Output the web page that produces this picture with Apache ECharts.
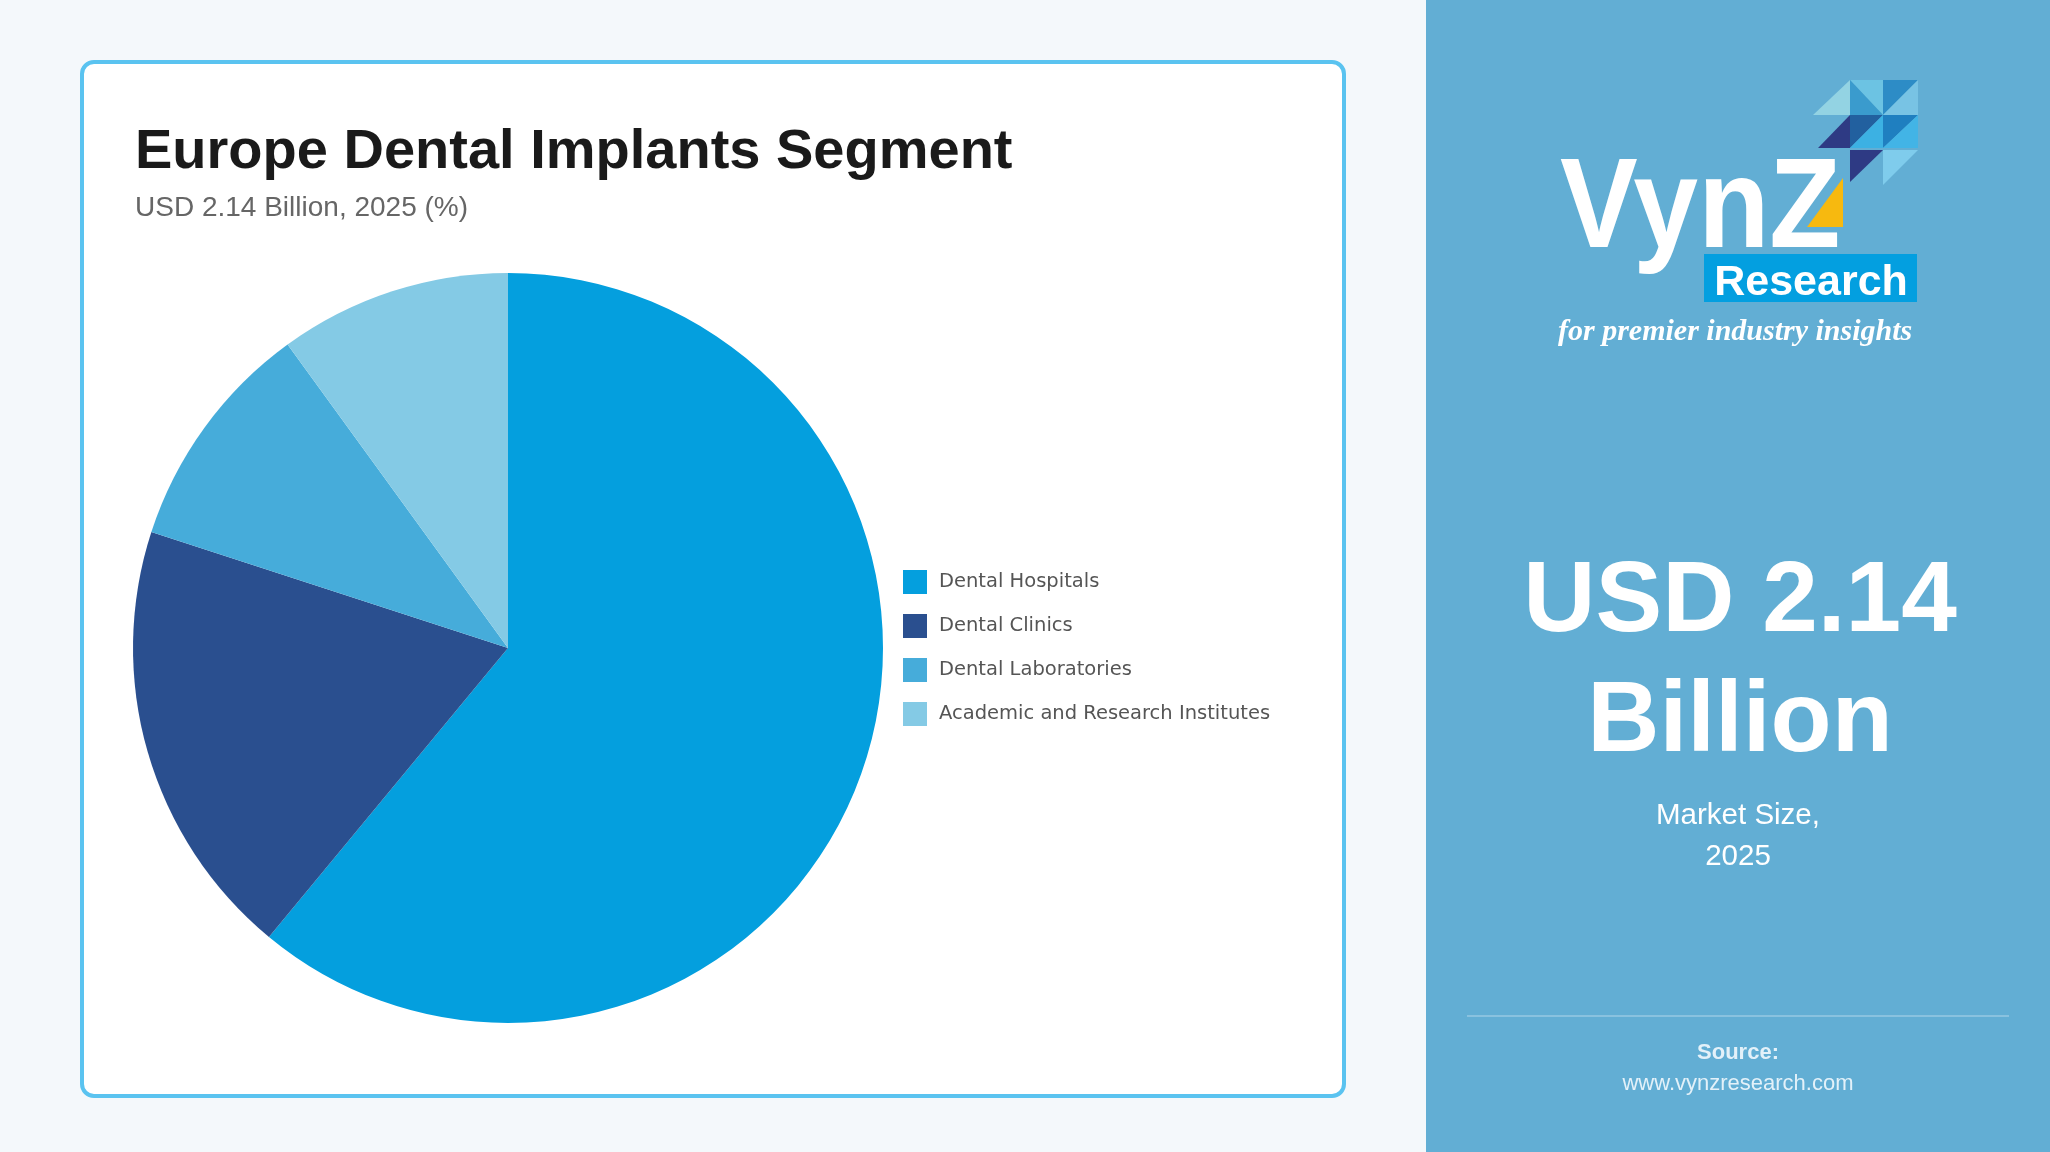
<!DOCTYPE html>
<html>
<head>
<meta charset="utf-8">
<title>Europe Dental Implants Segment</title>
<script src="https://cdn.jsdelivr.net/npm/echarts@6/dist/echarts.min.js"></script>
<style>
  html, body {
    margin: 0;
    padding: 0;
    background: #f4f8fb;
  }
  #chart {
    width: 2050px;
    height: 1152px;
  }
</style>
</head>
<body>
<div id="chart"></div>
<script>
// segment shares, 2025 (%)
const segments = [
  "Dental Hospitals",
  "Dental Clinics",
  "Dental Laboratories",
  "Academic and Research Institutes",
];
const shares = [61, 19, 10, 10];
const segmentColors = ["#049fde", "#2a4f8f", "#46acda", "#84cae5"];

const titleText = "Europe Dental Implants Segment";
const subTitleText = "USD 2.14 Billion, 2025 (%)";
const sizeLines = ["USD 2.14", "Billion"];
const sizeCaption = ["Market Size,", "2025"];

const SANS = '"Liberation Sans", Arial, sans-serif';

const chart = echarts.init(document.getElementById("chart"));

const txt = (x, y, text, font, fill, align) => ({
  type: "text",
  x: x,
  y: y,
  silent: true,
  style: {
    text: text,
    font: font,
    fill: fill,
    align: align || "left",
    verticalAlign: "middle",
  },
});

const tri = (pts, fill) => ({
  type: "polygon",
  silent: true,
  shape: { points: pts },
  style: { fill: fill },
});

// logo mosaic (top right of the side panel)
const mosaic = [
  tri([[1813, 115], [1850, 80], [1850, 115]], "#93d3e3"),
  tri([[1850, 80], [1883, 80], [1883, 115]], "#6cc3e3"),
  tri([[1850, 80], [1883, 115], [1850, 115]], "#3a9bcd"),
  tri([[1883, 80], [1918, 80], [1883, 115]], "#2d8cc6"),
  tri([[1918, 80], [1918, 115], [1883, 115]], "#78c3e4"),
  tri([[1818, 148], [1850, 115], [1850, 148]], "#2e3a84"),
  tri([[1850, 115], [1883, 115], [1850, 148]], "#22609f"),
  tri([[1883, 115], [1883, 148], [1850, 148]], "#3cb1e3"),
  tri([[1883, 115], [1918, 115], [1883, 148]], "#1f7fc0"),
  tri([[1918, 115], [1918, 148], [1883, 148]], "#42b4e6"),
  tri([[1850, 150], [1883, 150], [1850, 182]], "#2e3a84"),
  tri([[1883, 150], [1918, 150], [1883, 185]], "#7fccec"),
  tri([[1807, 227], [1843, 227], [1843, 178]], "#f7b90f"),
];

const option = {
  backgroundColor: "#f4f8fb",
  animation: false,
  color: segmentColors,
  graphic: [
    // white card with blue border
    {
      type: "rect",
      silent: true,
      shape: { x: 82, y: 62, width: 1262, height: 1034, r: 12 },
      style: { fill: "#ffffff", stroke: "#5ac3f0", lineWidth: 4 },
    },
    // side panel
    {
      type: "rect",
      silent: true,
      shape: { x: 1426, y: 0, width: 624, height: 1152 },
      style: { fill: "#62aed4" },
    },
    txt(135, 153, titleText, "bold 56px " + SANS, "#1a1a1a"),
    txt(135, 208, subTitleText, "28px " + SANS, "#666666"),

    // logo
    ...mosaic,
    {
      type: "text",
      x: 1560,
      y: 212,
      scaleX: 0.91,
      silent: true,
      style: {
        text: "VynZ",
        font: "bold 128px " + SANS,
        fill: "#ffffff",
        verticalAlign: "middle",
      },
    },
    {
      type: "rect",
      silent: true,
      shape: { x: 1704, y: 254, width: 213, height: 48 },
      style: { fill: "#039fe0" },
    },
    txt(1811, 283, "Research", "bold 43px " + SANS, "#ffffff", "center"),
    txt(1558, 332, "for premier industry insights",
      'italic bold 30px "Liberation Serif", serif', "#ffffff"),

    // market size block
    txt(1740, 603, sizeLines[0], "bold 100px " + SANS, "#ffffff", "center"),
    txt(1740, 723, sizeLines[1], "bold 100px " + SANS, "#ffffff", "center"),
    txt(1738, 816, sizeCaption[0], "29.5px " + SANS, "#ffffff", "center"),
    txt(1738, 857, sizeCaption[1], "29.5px " + SANS, "#ffffff", "center"),
    {
      type: "line",
      silent: true,
      shape: { x1: 1467, y1: 1016, x2: 2009, y2: 1016 },
      style: { stroke: "rgba(255,255,255,0.25)", lineWidth: 2 },
    },
    txt(1738, 1053, "Source:", "bold 22px " + SANS, "#e3f1f9", "center"),
    txt(1738, 1084, "www.vynzresearch.com", "22px " + SANS, "#e3f1f9", "center"),
  ],
  legend: {
    orient: "vertical",
    left: 903,
    top: 570,
    padding: 0,
    icon: "rect",
    itemWidth: 24,
    itemHeight: 24,
    itemGap: 20,
    selectedMode: false,
    data: segments,
    textStyle: {
      color: "#555555",
      fontSize: 19.5,
      fontFamily: '"DejaVu Sans", Verdana, sans-serif',
      padding: [0, 0, 0, 7],
    },
  },
  series: [
    {
      name: "Segment",
      type: "pie",
      center: [508, 648],
      radius: 375,
      startAngle: 90,
      clockwise: true,
      label: { show: false },
      labelLine: { show: false },
      emphasis: { disabled: true },
      itemStyle: { borderWidth: 0 },
      data: segments.map((name, i) => ({ name: name, value: shares[i] })),
    },
  ],
};

chart.setOption(option);
</script>
</body>
</html>
